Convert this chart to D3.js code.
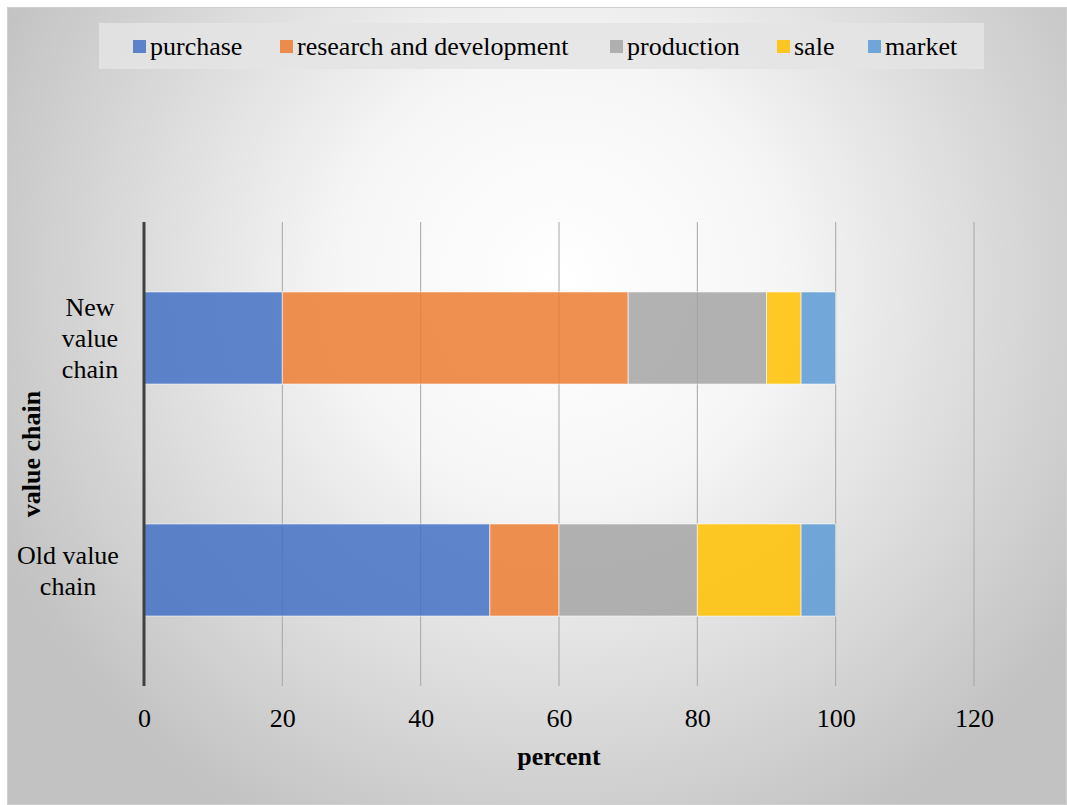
<!DOCTYPE html>
<html><head><meta charset="utf-8">
<script src="https://cdn.jsdelivr.net/npm/d3@7"></script>
<style>body{margin:0;background:#fff;}svg{display:block;}</style>
</head><body>
<script>
const categories = ["New value chain", "Old value chain"];
const categoryLines = [["New", "value", "chain"], ["Old value", "chain"]];
const seriesNames = ["purchase", "research and development", "production", "sale", "market"];
const purchase = [20, 50];
const research = [50, 10];
const production = [20, 20];
const sale = [5, 15];
const market = [5, 5];
const xTicks = [0, 20, 40, 60, 80, 100, 120];
const colors = ["#4472C4", "#ED7D31", "#A5A5A5", "#FFC000", "#5B9BD5"];

const W = 1067, H = 805;
const svg = d3.select("body").append("svg").attr("width", W).attr("height", H);
const defs = svg.append("defs");
const rg = defs.append("radialGradient").attr("id", "bg")
  .attr("gradientUnits", "userSpaceOnUse").attr("cx", 560).attr("cy", 280).attr("r", 620);
rg.append("stop").attr("offset", "0").attr("stop-color", "#ffffff");
rg.append("stop").attr("offset", "0.35").attr("stop-color", "#f6f6f6");
rg.append("stop").attr("offset", "1").attr("stop-color", "#c2c2c2");

svg.append("rect").attr("x", 7.5).attr("y", 7.5).attr("width", W - 8).attr("height", H - 8)
  .attr("fill", "url(#bg)").attr("stroke", "#d0d0d0");

const font = "'Liberation Serif', 'Times New Roman', serif";
const fs = 26;
const x = d3.scaleLinear().domain([0, 120]).range([144, 974]);
const y = d3.scaleBand().domain(categories).range([222, 686]).padding(0);
const barH = y.bandwidth() * 0.397;

// gridlines
svg.append("g").selectAll("line").data(xTicks.filter(d => d > 0)).join("line")
  .attr("x1", d => x(d)).attr("x2", d => x(d)).attr("y1", 222).attr("y2", 686)
  .attr("stroke", "#a6a6a6").attr("stroke-width", 1);

// stacked data
const rows = categories.map((c, i) => ({cat: c, purchase: purchase[i], research: research[i], production: production[i], sale: sale[i], market: market[i]}));
const keys = ["purchase", "research", "production", "sale", "market"];
const stack = d3.stack().keys(keys)(rows);

svg.append("g").selectAll("g").data(stack).join("g")
  .attr("fill", (d, i) => colors[i]).attr("fill-opacity", 0.85)
  .selectAll("rect").data(d => d).join("rect")
  .attr("x", d => x(d[0])).attr("width", d => x(d[1]) - x(d[0]))
  .attr("y", d => y(d.data.cat) + (y.bandwidth() - barH) / 2).attr("height", barH)
  .attr("stroke", "#ffffff").attr("stroke-opacity", 0.6).attr("stroke-width", 1);

// y axis line
svg.append("line").attr("x1", x(0)).attr("x2", x(0)).attr("y1", 222).attr("y2", 686)
  .attr("stroke", "#404040").attr("stroke-width", 3);

// x axis labels
const xa = d3.axisBottom(x).tickValues(xTicks).tickSize(0).tickPadding(0);
const gx = svg.append("g").attr("transform", "translate(0,718)").call(xa);
gx.select(".domain").remove();
gx.selectAll("text").attr("font-family", font).attr("font-size", fs).attr("fill", "#000").attr("dy", "0.35em");

// category labels
categories.forEach((c, i) => {
  const lines = categoryLines[i];
  const cy = y(c) + y.bandwidth() / 2;
  const lh = 31;
  const t = svg.append("text").attr("font-family", font).attr("font-size", fs).attr("fill", "#000")
    .attr("text-anchor", "middle");
  const cx = i === 0 ? 90 : 68;
  lines.forEach((l, j) => {
    t.append("tspan").attr("x", cx).attr("y", cy + (j - (lines.length - 1) / 2) * lh).attr("dy", "0.35em").text(l);
  });
});

// axis titles
svg.append("text").attr("x", 559).attr("y", 756).attr("dy", "0.35em").attr("text-anchor", "middle")
  .attr("font-family", font).attr("font-size", fs).attr("font-weight", "bold").text("percent");
svg.append("text").attr("transform", "translate(31,454) rotate(-90)").attr("dy", "0.35em").attr("text-anchor", "middle")
  .attr("font-family", font).attr("font-size", fs).attr("font-weight", "bold").text("value chain");

// legend
const lg = svg.append("g");
lg.append("rect").attr("x", 99).attr("y", 23).attr("width", 885).attr("height", 46).attr("fill", "#e4e4e4").attr("fill-opacity", 0.85);
const legX = [133, 280, 610, 777, 868];
seriesNames.forEach((n, i) => {
  lg.append("rect").attr("x", legX[i]).attr("y", 40).attr("width", 13).attr("height", 13).attr("fill", colors[i]).attr("fill-opacity", 0.85);
  lg.append("text").attr("x", legX[i] + 17).attr("y", 46).attr("dy", "0.35em")
    .attr("font-family", font).attr("font-size", fs).attr("fill", "#000").text(n);
});
</script>
</body></html>
